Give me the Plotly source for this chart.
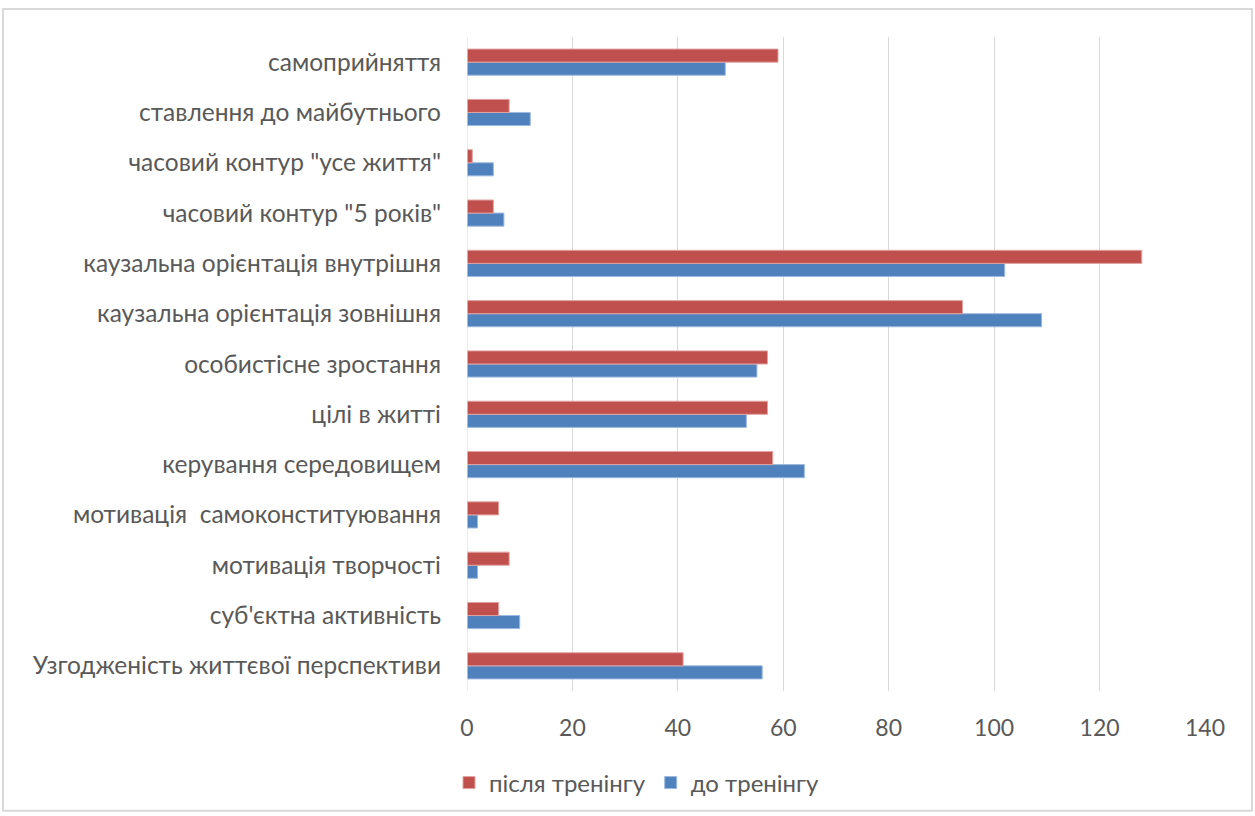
import plotly.graph_objects as go

categories = [
    "Узгодженість життєвої перспективи",
    "суб'єктна активність",
    "мотивація творчості",
    "мотивація  самоконституювання",
    "керування середовищем",
    "цілі в житті",
    "особистісне зростання",
    "каузальна орієнтація зовнішня",
    "каузальна орієнтація внутрішня",
    "часовий контур \"5 років\"",
    "часовий контур \"усе життя\"",
    "ставлення до майбутнього",
    "самоприйняття",
]
before = [56, 10, 2, 2, 64, 53, 55, 109, 102, 7, 5, 12, 49]
after = [41, 6, 8, 6, 58, 57, 57, 94, 128, 5, 1, 8, 59]
series_names = ["до тренінгу", "після тренінгу"]
x_ticks = [0, 20, 40, 60, 80, 100, 120, 140]

FONT = "Lato, Open Sans, sans-serif"
TXT = "#595959"

fig = go.Figure()
fig.add_trace(go.Bar(
    y=categories, x=before, name=series_names[0], orientation="h",
    marker=dict(color="#4F81BD", line=dict(color="#9DB9DE", width=1)),
))
fig.add_trace(go.Bar(
    y=categories, x=after, name=series_names[1], orientation="h",
    marker=dict(color="#C0504D", line=dict(color="#E0A3A1", width=1)),
))

W, H = 1255, 816
L, R, T, B = 467, 50, 37, 124
pw, ph = W - L - R, H - T - B

def px_to_paper_x(px):
    return (px - L) / pw

def px_to_paper_y(py):
    return (H - B - py) / ph

fig.update_layout(
    width=W, height=H,
    margin=dict(l=L, r=R, t=T, b=B, pad=0),
    barmode="group", bargap=0.48, bargroupgap=0,
    plot_bgcolor="white", paper_bgcolor="white",
    font=dict(family=FONT, size=23, color=TXT),
    xaxis=dict(
        range=[0, 140], tickvals=x_ticks, showgrid=True, gridcolor="#D9D9D9",
        gridwidth=1, zeroline=False, showline=False, ticks="",
        tickfont=dict(size=23, color=TXT), ticklabelstandoff=21,
    ),
    yaxis=dict(
        showgrid=False, zeroline=False, showline=False, ticks="",
        tickfont=dict(size=24.5, color=TXT), ticklabelstandoff=25,
    ),
    legend=dict(
        orientation="h", x=px_to_paper_x(637), xanchor="center",
        y=px_to_paper_y(783), yanchor="middle", traceorder="reversed",
        font=dict(size=24, color=TXT), itemwidth=30,
    ),
    showlegend=True,
    shapes=[
        dict(type="line", xref="x", yref="paper", x0=0, x1=0, y0=0, y1=1,
             line=dict(color="#D9D9D9", width=1)),
        dict(type="rect", xref="paper", yref="paper",
             x0=px_to_paper_x(3), x1=px_to_paper_x(1252),
             y0=px_to_paper_y(812), y1=px_to_paper_y(9),
             line=dict(color="#D9D9D9", width=2), layer="below"),
    ],
)

fig.write_html(
    "out.html",
    config={"displayModeBar": False},
    post_script="document.body.style.margin='0';document.body.style.overflow='hidden';",
)
